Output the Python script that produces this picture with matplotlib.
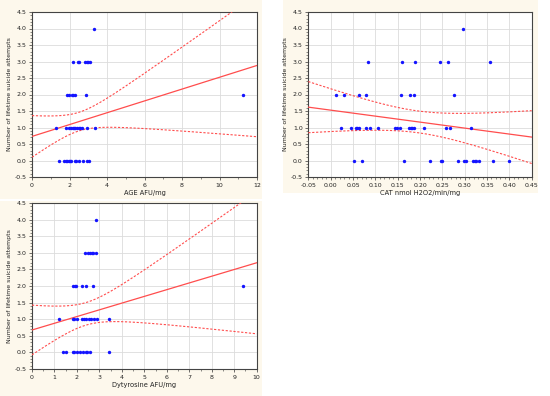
import numpy as np
import matplotlib
matplotlib.use("Agg")
import matplotlib.pyplot as plt
from matplotlib.ticker import MultipleLocator, FormatStrFormatter
from matplotlib.patches import Rectangle

# ---------------- data ----------------
ylabel = "Number of lifetime suicide attempts"

age_x = [3.28,
         2.21, 2.43, 2.52, 2.83, 2.92, 3.0, 3.08,
         1.85, 1.99, 2.12, 2.21, 2.30, 2.88, 11.23,
         1.28, 1.82, 1.99, 2.07, 2.17, 2.24, 2.31, 2.39, 2.49, 2.56, 2.66, 2.92, 3.37,
         1.42, 1.73, 1.81, 1.88, 1.96, 2.01, 2.08, 2.27, 2.36, 2.5, 2.7, 2.93, 3.06]
age_y = [4,
         3, 3, 3, 3, 3, 3, 3,
         2, 2, 2, 2, 2, 2, 2,
         1, 1, 1, 1, 1, 1, 1, 1, 1, 1, 1, 1, 1,
         0, 0, 0, 0, 0, 0, 0, 0, 0, 0, 0, 0, 0]

cat_x = [0.297,
         0.084, 0.160, 0.188, 0.244, 0.262, 0.357,
         0.013, 0.030, 0.063, 0.080, 0.157, 0.177, 0.186, 0.277,
         0.023, 0.046, 0.056, 0.060, 0.064, 0.079, 0.087, 0.107, 0.144, 0.148, 0.155,
         0.176, 0.179, 0.183, 0.186, 0.210, 0.258, 0.267, 0.315,
         0.053, 0.071, 0.164, 0.223, 0.246, 0.249, 0.284, 0.299, 0.304, 0.318, 0.322,
         0.326, 0.331, 0.364, 0.400]
cat_y = [4,
         3, 3, 3, 3, 3, 3,
         2, 2, 2, 2, 2, 2, 2, 2,
         1, 1, 1, 1, 1, 1, 1, 1, 1, 1, 1,
         1, 1, 1, 1, 1, 1, 1, 1,
         0, 0, 0, 0, 0, 0, 0, 0, 0, 0, 0,
         0, 0, 0, 0]

dyt_x = [2.84,
         2.36, 2.51, 2.58, 2.65, 2.72, 2.86,
         1.81, 1.90, 1.98, 2.22, 2.40, 2.73, 9.41,
         1.22, 1.81, 1.89, 1.99, 2.21, 2.30, 2.42, 2.52, 2.64, 2.75, 2.90, 3.41,
         1.39, 1.50, 1.81, 1.88, 2.02, 2.14, 2.28, 2.39, 2.46, 2.58, 3.44]
dyt_y = [4,
         3, 3, 3, 3, 3, 3,
         2, 2, 2, 2, 2, 2, 2,
         1, 1, 1, 1, 1, 1, 1, 1, 1, 1, 1, 1,
         0, 0, 0, 0, 0, 0, 0, 0, 0, 0, 0]

# regression line and 95% confidence band
fit_intercept = [0.73, 1.526, 0.675]      # value of fitted line at x = 0
fit_slope = [0.1792, -1.814, 0.2025]
ci_center = [2.5, 0.195, 2.4]             # x where band is narrowest
ci_min = [0.282, 0.33, 0.34]              # half-width at narrowest point
ci_growth = [0.2254, 2.86, 0.278]         # asymptotic growth of half-width

panels = [
    dict(x=age_x, y=age_y, xlabel="AGE AFU/mg", xlim=(0, 12), major=2, minor=1, fmt="%d",
         pos=[32, 12, 257, 177], bg=[0, 0, 262, 199]),
    dict(x=cat_x, y=cat_y, xlabel="CAT nmol H2O2/min/mg", xlim=(-0.05, 0.45), major=0.05, minor=0.01,
         fmt="%.2f", pos=[308.3, 12, 531.7, 177], bg=[283, 0, 538, 193]),
    dict(x=dyt_x, y=dyt_y, xlabel="Dytyrosine AFU/mg", xlim=(0, 10), major=1, minor=0.5, fmt="%d",
         pos=[32, 203, 256.7, 369], bg=[0, 201, 262, 396]),
]

W, H = 550, 396
fig = plt.figure(figsize=(W / 100, H / 100), dpi=100)
fig.patch.set_facecolor("white")

beige = "#fdf8ec"
line_c = "#ff4d4d"
pt_c = "#1414ff"

for i, p in enumerate(panels):
    bx0, by0, bx1, by1 = p["bg"]
    fig.patches.append(Rectangle((bx0 / W, 1 - by1 / H), (bx1 - bx0) / W, (by1 - by0) / H,
                                 transform=fig.transFigure, facecolor=beige, edgecolor="none",
                                 zorder=-10))
    x0, y0, x1, y1 = p["pos"]
    ax = fig.add_axes([x0 / W, 1 - y1 / H, (x1 - x0) / W, (y1 - y0) / H], zorder=1)
    ax.set_facecolor("white")
    x = np.asarray(p["x"], float)
    y = np.asarray(p["y"], float)

    xx = np.linspace(p["xlim"][0], p["xlim"][1], 300)
    yy = fit_intercept[i] + fit_slope[i] * xx
    h = np.sqrt(ci_min[i] ** 2 + (ci_growth[i] * (xx - ci_center[i])) ** 2)
    ax.plot(xx, yy, color=line_c, lw=0.9, zorder=3)
    ax.plot(xx, yy + h, color=line_c, lw=0.8, ls=(0, (2, 1.5)), zorder=3)
    ax.plot(xx, yy - h, color=line_c, lw=0.8, ls=(0, (2, 1.5)), zorder=3)
    ax.scatter(x, y, s=6, color=pt_c, marker="o", linewidths=0, zorder=4)

    ax.set_xlim(*p["xlim"])
    ax.set_ylim(-0.5, 4.5)
    ax.xaxis.set_major_locator(MultipleLocator(p["major"]))
    ax.xaxis.set_minor_locator(MultipleLocator(p["minor"]))
    ax.xaxis.set_major_formatter(FormatStrFormatter(p["fmt"]))
    ax.yaxis.set_major_locator(MultipleLocator(0.5))
    ax.yaxis.set_minor_locator(MultipleLocator(0.1))
    ax.yaxis.set_major_formatter(FormatStrFormatter("%.1f"))
    ax.grid(True, which="major", color="#dcdcdc", lw=0.6)
    ax.set_axisbelow(True)
    ax.tick_params(which="major", direction="out", length=2.5, width=0.5, labelsize=4.5,
                   pad=1.5, colors="#333333", labelcolor="#222222")
    ax.tick_params(which="minor", direction="out", length=1.3, width=0.4, colors="#333333")
    for sp in ax.spines.values():
        sp.set_color("#444444")
        sp.set_linewidth(0.8)
    ax.set_xlabel(p["xlabel"], fontsize=4.8, labelpad=2, color="#222222")
    ax.set_ylabel(ylabel, fontsize=4.5, labelpad=2, color="#222222")

fig.savefig("out.png", dpi=100, facecolor="white")
